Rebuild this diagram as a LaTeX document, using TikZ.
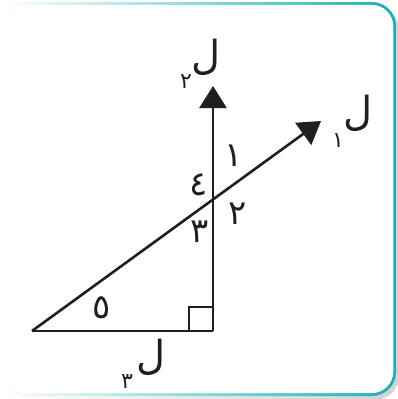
\documentclass[tikz,border=0pt]{standalone}
\usepackage{fontspec}
\usetikzlibrary{arrows.meta}
\TeXXeTstate=1
\newfontfamily\arabicfont[Script=Arabic]{DejaVu Sans}
\definecolor{myteal}{HTML}{17B0B2}
\begin{document}
\begin{tikzpicture}[x=1pt,y=-1pt,
  geo/.style={line width=2.6pt, draw=black!88},
  tip/.style={-{Triangle[length=22pt,width=27pt]}},
  lab/.style={font=\arabicfont\fontsize{40}{40}\selectfont, inner sep=0pt, text=black!88},
  sub/.style={font=\arabicfont\fontsize{22}{22}\selectfont, inner sep=0pt, text=black!88},
  num/.style={font=\arabicfont\fontsize{34}{34}\selectfont, inner sep=0pt, text=black!88}]
\useasboundingbox (0,0) rectangle (397,399);
% shadow and frame
\shade[left color=white, right color=gray!35, rounded corners=24pt] (4,6) rectangle (399,400);
\shade[left color=white, middle color=myteal!70, right color=myteal, rounded corners=24pt] (1,2) rectangle (396,396);
\fill[white, rounded corners=22pt] (3.5,4.8) rectangle (393.4,393.2);
% geometry
\coordinate (A) at (32,331);
\coordinate (B) at (213,331);
\coordinate (T2) at (213,86);
\coordinate (T1) at (321,121);
\coordinate (Q1) at (189,331);
\coordinate (Q2) at (189,307);
\coordinate (Q3) at (213,307);
\draw[geo] (A) -- (B);
\draw[geo, tip] (B) -- (T2);
\draw[geo, tip] (A) -- (T1);
\draw[geo, line width=2.2pt] (Q1) -- (Q2) -- (Q3);
% labels
\node[lab] (L2) at (206,57) {\beginR ل\endR};
\node[sub] (s2) at (186,82) {\beginR ٢\endR};
\node[lab] (L1) at (358,113) {\beginR ل\endR};
\node[sub] (s1) at (338,141) {\beginR ١\endR};
\node[lab] (L3) at (151,357) {\beginR ل\endR};
\node[sub] (s3) at (127,382) {\beginR ٣\endR};
\node[num] (n1) at (234,156) {\beginR ١\endR};
\node[num] (n4) at (199,185) {\beginR ٤\endR};
\node[num] (n2) at (238,214) {\beginR ٢\endR};
\node[num] (n3) at (200,232) {\beginR ٣\endR};
\node[num] (n5) at (102,308) {\beginR ٥\endR};
\end{tikzpicture}
\end{document}
